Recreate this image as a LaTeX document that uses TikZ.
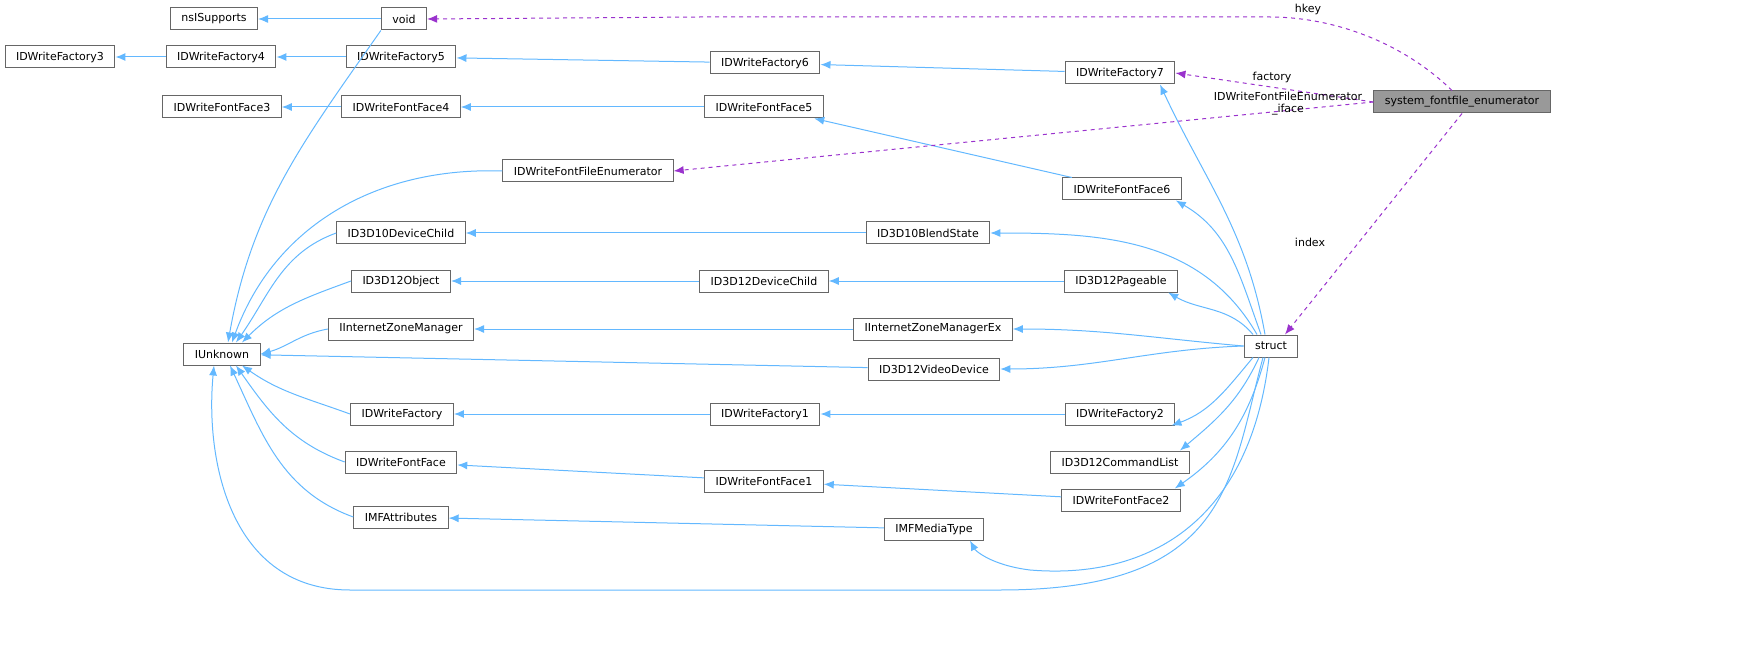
\documentclass[tikz,border=0pt]{standalone}
\usepackage{fontspec}
\setmainfont{DejaVu Sans}
\usetikzlibrary{arrows.meta}
\definecolor{inh}{RGB}{99,184,255}
\definecolor{usg}{RGB}{154,50,205}
\begin{document}
\begin{tikzpicture}[x=0.5pt,y=-0.5pt,
  n/.style={draw={rgb,255:red,102;green,102;blue,102},line width=0.5pt,fill=white,rectangle,minimum height=11pt,inner xsep=5.5pt,inner ysep=0pt,font=\fontsize{5.5}{6}\selectfont},
  e/.style={draw=inh,line width=0.5pt,-{Latex[length=5pt,width=4pt]}},
  u/.style={draw=usg,line width=0.5pt,dash pattern=on 2pt off 2pt,-{Latex[length=5pt,width=4pt]}},
  lb/.style={font=\fontsize{5.5}{6}\selectfont,align=center}]
\useasboundingbox (0,0) rectangle (1749,668);
\node[n] (nsI) at (214,19) {nsISupports};
\node[n] (void) at (404,19) {void};
\node[n] (F3) at (60,57) {IDWriteFactory3};
\node[n] (F4) at (221,57) {IDWriteFactory4};
\node[n] (F5) at (401,57) {IDWriteFactory5};
\node[n] (F6) at (765,63) {IDWriteFactory6};
\node[n] (F7) at (1120,73) {IDWriteFactory7};
\node[n,fill={rgb,255:red,153;green,153;blue,153}] (sfe) at (1462,102) {system\_fontfile\_enumerator};
\node[n] (FF3) at (222,107) {IDWriteFontFace3};
\node[n] (FF4) at (401,107) {IDWriteFontFace4};
\node[n] (FF5) at (764,107) {IDWriteFontFace5};
\node[n] (FFE) at (588,171) {IDWriteFontFileEnumerator};
\node[n] (FF6) at (1122,189) {IDWriteFontFace6};
\node[n] (D10C) at (401,233) {ID3D10DeviceChild};
\node[n] (D10B) at (928,233) {ID3D10BlendState};
\node[n] (D12O) at (401,281) {ID3D12Object};
\node[n] (D12C) at (764,281) {ID3D12DeviceChild};
\node[n] (D12P) at (1121,281) {ID3D12Pageable};
\node[n] (IZM) at (401,329) {IInternetZoneManager};
\node[n] (IZMX) at (933,329) {IInternetZoneManagerEx};
\node[n] (IU) at (222,354) {IUnknown};
\node[n] (st) at (1271,346) {struct};
\node[n] (D12V) at (934,369) {ID3D12VideoDevice};
\node[n] (F) at (402,414) {IDWriteFactory};
\node[n] (F1) at (765,414) {IDWriteFactory1};
\node[n] (F2) at (1120,414) {IDWriteFactory2};
\node[n] (D12L) at (1120,462) {ID3D12CommandList};
\node[n] (FF) at (401,462) {IDWriteFontFace};
\node[n] (FF1) at (764,481) {IDWriteFontFace1};
\node[n] (FF2) at (1121,500) {IDWriteFontFace2};
\node[n] (IMFA) at (401,517) {IMFAttributes};
\node[n] (IMFM) at (934,529) {IMFMediaType};
% straight inheritance
\draw[e] (void) -- (nsI);
\draw[e] (F4) -- (F3);
\draw[e] (F5) -- (F4);
\draw[e] (F6) -- (F5);
\draw[e] (F7) -- (F6);
\draw[e] (FF4) -- (FF3);
\draw[e] (FF5) -- (FF4);
\draw[e] (FF6) -- (FF5);
\draw[e] (D10B) -- (D10C);
\draw[e] (D12C) -- (D12O);
\draw[e] (D12P) -- (D12C);
\draw[e] (IZMX) -- (IZM);
\draw[e] (F1) -- (F);
\draw[e] (F2) -- (F1);
\draw[e] (FF1) -- (FF);
\draw[e] (FF2) -- (FF1);
\draw[e] (IMFM) -- (IMFA);
\draw[e] (D12V) -- (IU);
% to IUnknown
\draw[e] (void.south west) to[out=235,in=80] ([xshift=3pt]IU.north);
\draw[e] (FFE.west) to[out=178,in=70] ([xshift=5pt]IU.north);
\draw[e] (D10C.west) to[out=200,in=55] ([xshift=7pt]IU.north);
\draw[e] (D12O.west) to[out=200,in=45] ([xshift=10pt]IU.north);
\draw[e] (IZM.west) to[out=190,in=15] (IU.east);
\draw[e] (F.west) to[out=160,in=-35] ([xshift=10pt]IU.south);
\draw[e] (FF.west) to[out=160,in=-55] ([xshift=7pt]IU.south);
\draw[e] (IMFA.west) to[out=160,in=-65] ([xshift=4pt]IU.south);
\draw[e] ([xshift=-4pt]st.south) .. controls (1230,480) and (1230,590) .. (1000,590) -- (350,590) .. controls (230,590) and (205,460) .. ([xshift=-4pt]IU.south);
% struct to right column
\draw[e] ([xshift=-3pt]st.north) to[out=100,in=-65] ([xshift=20pt]F7.south);
\draw[e] ([xshift=-5pt]st.north) to[out=110,in=-30] ([xshift=-3pt]FF6.south east);
\draw[e] ([xshift=-7pt]st.north) to[out=120,in=0] (D10B.east);
\draw[e] ([xshift=-9pt]st.north) to[out=130,in=-30] ([xshift=-5pt]D12P.south east);
\draw[e] (st.west) to[out=175,in=0] (IZMX.east);
\draw[e] (st.west) to[out=182,in=0] (D12V.east);
\draw[e] ([xshift=-9pt]st.south) to[out=230,in=20] ([xshift=-2pt]F2.south east);
\draw[e] ([xshift=-6pt]st.south) to[out=245,in=40] ([xshift=-5pt]D12L.north east);
\draw[e] ([xshift=-3pt]st.south) to[out=255,in=35] ([xshift=-3pt]FF2.north east);
\draw[e] ([xshift=-1pt]st.south) .. controls (1250,520) and (1150,580) .. (1030,570) .. controls (990,565) and (975,550) .. ([xshift=18pt]IMFM.south);
% usage
\draw[u] ([xshift=-5pt]sfe.north) .. controls (1400,40) and (1330,17) .. (1270,17) -- (700,17) -- (void.east);
\node[lb] at (1308,9) {hkey};
\draw[u] (sfe.west) -- (F7.east);
\node[lb] at (1272,77) {factory};
\draw[u] (sfe.west) -- (FFE.east);
\node[lb] at (1288,104) {IDWriteFontFileEnumerator\\\_iface};
\draw[u] (sfe.south) -- ([xshift=7pt]st.north);
\node[lb] at (1310,242) {index};
\end{tikzpicture}
\end{document}
